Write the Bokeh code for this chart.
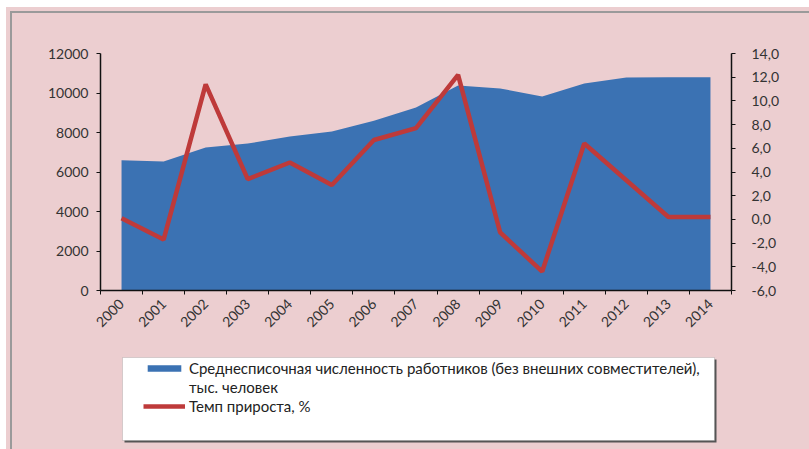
from bokeh.plotting import figure
from bokeh.layouts import column
from bokeh.models import (Range1d, LinearAxis, FixedTicker, BoxAnnotation, Legend,
                          LegendItem, CustomJSTickFormatter, InlineStyleSheet)
from bokeh.embed import file_html
from bokeh.resources import INLINE

# ---- data ----
years = [2000, 2001, 2002, 2003, 2004, 2005, 2006, 2007, 2008, 2009, 2010, 2011, 2012, 2013, 2014]
employees = [6600, 6530, 7240, 7440, 7800, 8050, 8600, 9270, 10380, 10230, 9820, 10480, 10780, 10800, 10800]
growth = [0.1, -1.7, 11.4, 3.4, 4.8, 2.9, 6.7, 7.7, 12.2, -1.1, -4.4, 6.4, 3.3, 0.2, 0.2]
left_ticks = [0, 2000, 4000, 6000, 8000, 10000, 12000]
right_ticks = [-6, -4, -2, 0, 2, 4, 6, 8, 10, 12, 14]
label_area_1 = "Среднесписочная численность работников (без внешних совместителей),"
label_area_2 = "тыс. человек"
label_line = "Темп прироста, %"

PINK = "#ECCED0"
BLUE = "#3B72B3"
RED = "#BE3A3A"
FONT = "Lato"
TXT = "#333333"

W = 809
H1 = 345
H2 = 104

boundaries = [y - 0.5 for y in years] + [years[-1] + 0.5]

p = figure(width=W, height=H1, output_backend="svg", toolbar_location=None,
           x_range=Range1d(years[0] - 0.5, years[-1] + 0.5),
           y_range=Range1d(left_ticks[0], left_ticks[-1]),
           min_border_left=100, min_border_right=78, min_border_top=53, min_border_bottom=55,
           background_fill_color=PINK, border_fill_color=PINK, outline_line_color=None)
p.extra_y_ranges = {"pct": Range1d(right_ticks[0], right_ticks[-1])}
p.grid.visible = False

area = p.varea(x=years, y1=0, y2=employees, fill_color=BLUE)
line = p.line(x=years, y=growth, y_range_name="pct", line_color=RED, line_width=4.5)

# x axis: labels at years, tick marks between years
xax = p.xaxis[0]
xax.ticker = FixedTicker(ticks=years, minor_ticks=boundaries)
xax.major_tick_out = 0
xax.major_tick_in = 0
xax.minor_tick_out = 4
xax.minor_tick_in = 0
xax.major_label_orientation = 0.785
xax.major_label_standoff = 7
xax.formatter = CustomJSTickFormatter(code="return tick.toFixed(0);")

yax = p.yaxis[0]
yax.ticker = FixedTicker(ticks=left_ticks, minor_ticks=[])
yax.major_tick_out = 4
yax.major_tick_in = 0
yax.major_label_standoff = 8
yax.formatter = CustomJSTickFormatter(code="return tick.toFixed(0);")

rax = LinearAxis(y_range_name="pct", ticker=FixedTicker(ticks=right_ticks, minor_ticks=[]),
                 formatter=CustomJSTickFormatter(code="return tick.toFixed(1).replace('.', ',');"))
rax.major_tick_out = 4
rax.major_tick_in = 0
rax.major_label_standoff = 16
p.add_layout(rax, "right")

for ax in [xax, yax, rax]:
    ax.axis_line_color = "#111111"
    ax.axis_line_width = 1.5
    ax.major_tick_line_color = "#111111"
    ax.minor_tick_line_color = "#111111"
    ax.major_label_text_font = FONT
    ax.major_label_text_font_size = "14px"
    ax.major_label_text_color = TXT

# ---- legend strip (second figure; its frame is aligned with the chart's frame) ----
q = figure(width=W, height=H2, output_backend="svg", toolbar_location=None,
           x_axis_type=None, y_axis_type=None,
           x_range=Range1d(0, 1), y_range=Range1d(0, 1),
           min_border=0, background_fill_color=PINK, border_fill_color=PINK,
           outline_line_color=None)
q.grid.visible = False
# legend keys: same series and styles (data lies outside this strip's ranges)
area_key = q.varea(x=years, y1=0, y2=employees, fill_color=BLUE)
blank_key = q.line(x=years, y=employees, line_alpha=0)
line_key = q.line(x=years, y=growth, line_color=RED, line_width=4.5)

q.add_layout(BoxAnnotation(left=124, top=14, right=716, bottom=97,
                           left_units="canvas", right_units="canvas",
                           top_units="canvas", bottom_units="canvas",
                           fill_color="#555555", fill_alpha=1, line_alpha=0))
q.add_layout(BoxAnnotation(left=122, top=12, right=714, bottom=95,
                           left_units="canvas", right_units="canvas",
                           top_units="canvas", bottom_units="canvas",
                           fill_color="white", fill_alpha=1, line_color="#888888", line_width=1))

legend = Legend(items=[LegendItem(label=label_area_1, renderers=[area_key]),
                       LegendItem(label=label_area_2, renderers=[blank_key]),
                       LegendItem(label=label_line, renderers=[line_key])],
                location=(43, 34), orientation="vertical",
                background_fill_alpha=0, border_line_color=None,
                padding=0, margin=0, spacing=1,
                glyph_width=42, glyph_height=8, label_standoff=4,
                label_text_font=FONT, label_text_font_size="15px", label_text_color="#222222")
q.add_layout(legend)

frame_css = InlineStyleSheet(css="""
:host { position: relative; background-color: %s; }
:host::before { content: ''; position: absolute; left: 0; top: 0; width: 100%%; height: 100%%;
  box-sizing: border-box; border-top: 7px solid white; border-left: 6px solid white;
  pointer-events: none; z-index: 20; }
:host::after { content: ''; position: absolute; left: 10px; top: 11px;
  width: calc(100%% - 10px); height: calc(100%% - 11px); box-sizing: border-box;
  border-top: 2px solid #9a9a9a; border-left: 2px solid #9a9a9a;
  pointer-events: none; z-index: 21; }
""" % PINK)

layout = column(p, q, spacing=0, stylesheets=[frame_css])
open("out.html", "w").write(file_html(layout, INLINE))
